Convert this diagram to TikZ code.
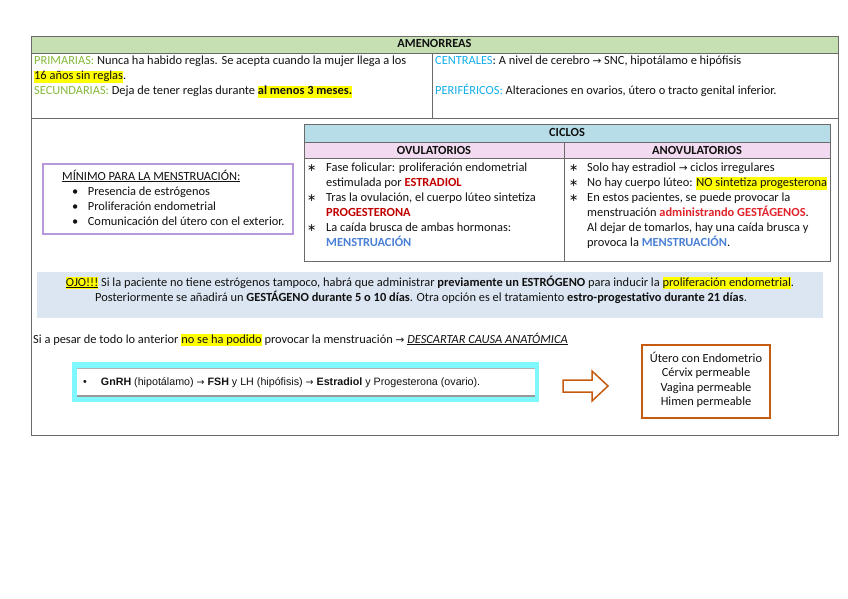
\documentclass[tikz,border=0pt]{standalone}
\usepackage{fontspec}
\setmainfont{Carlito}
\newfontfamily\arialf{Liberation Sans}
\newfontfamily\symf{DejaVu Sans}
\definecolor{ink}{HTML}{111111}
\definecolor{rulec}{HTML}{6A6A6A}
\definecolor{hdrgreen}{HTML}{C6E0B4}
\definecolor{primc}{HTML}{84B93A}
\definecolor{centc}{HTML}{12AEEA}
\definecolor{ciclosblue}{HTML}{B7DEE8}
\definecolor{ovpink}{HTML}{F2DAF0}
\definecolor{purpc}{HTML}{B897DD}
\definecolor{darkred}{HTML}{C00000}
\definecolor{brightred}{HTML}{E0232B}
\definecolor{mensblue}{HTML}{4A7FD6}
\definecolor{hlyellow}{HTML}{FFFF00}
\definecolor{ojofill}{HTML}{DCE6F2}
\definecolor{cyanc}{HTML}{7EF8FC}
\definecolor{orangec}{HTML}{C55A11}
\newcommand\hly[1]{{\setlength{\fboxsep}{0pt}\colorbox{hlyellow}{\rule[-3.2pt]{0pt}{12.6pt}#1}}}
\newcommand\rarr{{\symf\fontsize{10.5}{10}\selectfont →}}
\newcommand\astb{{\symf\fontsize{11}{11}\selectfont ∗}}
\begin{document}
\begin{tikzpicture}[x=1pt,y=-1pt,
  txt/.style={inner sep=0pt, anchor=base west, font=\fontsize{12.4}{15}\selectfont, text=ink},
  ctxt/.style={txt, anchor=base},
  rulel/.style={draw=rulec, line width=0.9pt}]
\useasboundingbox (0,0) rectangle (848,599);
% ---------- outer table ----------
\fill[hdrgreen] (31,36) rectangle (838,53);
\draw[rulel] (31,36) rectangle (838,435);
\draw[rulel] (31,53) -- (838,53);
\draw[rulel] (31,118) -- (838,118);
\draw[rulel] (432,53) -- (432,118);
\node[ctxt] (title) at (434.5,48) {\textbf{AMENORREAS}};
\node[txt] (prim1) at (34,65) {\textcolor{primc}{PRIMARIAS:} Nunca ha habido reglas. Se acepta cuando la mujer llega a los};
\node[txt] (prim2) at (34,80) {\hly{16 años sin reglas}.};
\node[txt] (secu) at (34,95) {\textcolor{primc}{SECUNDARIAS:} Deja de tener reglas durante \hly{\textbf{al menos 3 meses.}}};
\node[txt] (cent) at (435,65) {\textcolor{centc}{CENTRALES}: A nivel de cerebro \rarr{} SNC, hipotálamo e hipófisis};
\node[txt] (peri) at (435,95) {\textcolor{centc}{PERIFÉRICOS:} Alteraciones en ovarios, útero o tracto genital inferior.};
% ---------- minimum box ----------
\draw[draw=purpc, line width=1.1pt] (43,164) rectangle (293,234);
\node[txt] (minh) at (62,180) {\underline{MÍNIMO PARA LA MENSTRUACIÓN:}};
\node[txt] (min1) at (72,195) {•\hspace{9.5pt}Presencia de estrógenos};
\node[txt] (min2) at (72,210) {•\hspace{9.5pt}Proliferación endometrial};
\node[txt] (min3) at (72,225) {•\hspace{9.5pt}Comunicación del útero con el exterior.};
% ---------- ciclos table ----------
\fill[ciclosblue] (304,124) rectangle (830,142);
\fill[ovpink] (304,142) rectangle (830,158);
\draw[rulel] (304,124) rectangle (830,261);
\draw[rulel] (304,142) -- (830,142);
\draw[rulel] (304,158) -- (830,158);
\draw[rulel] (564,142) -- (564,261);
\node[ctxt] (ciclos) at (567,136) {\textbf{CICLOS}};
\node[ctxt] (ovu) at (434,154.5) {\textbf{OVULATORIOS}};
\node[ctxt] (anov) at (697,154.5) {\textbf{ANOVULATORIOS}};
\node[txt] (o1) at (307,171.5) {\astb};
\node[txt] (o1a) at (326,171.5) {Fase folicular: proliferación endometrial};
\node[txt] (o1b) at (326,186.5) {estimulada por \textcolor{darkred}{\textbf{ESTRADIOL}}};
\node[txt] (o2) at (307,201.5) {\astb};
\node[txt] (o2a) at (326,201.5) {Tras la ovulación, el cuerpo lúteo sintetiza};
\node[txt] (o2b) at (326,216.5) {\textcolor{darkred}{\textbf{PROGESTERONA}}};
\node[txt] (o3) at (307,231.5) {\astb};
\node[txt] (o3a) at (326,231.5) {La caída brusca de ambas hormonas:};
\node[txt] (o3b) at (326,246.5) {\textcolor{mensblue}{\textbf{MENSTRUACIÓN}}};
\node[txt] (a1) at (569,171.5) {\astb};
\node[txt] (a1a) at (587,171.5) {Solo hay estradiol \rarr{} ciclos irregulares};
\node[txt] (a2) at (569,186.5) {\astb};
\node[txt] (a2a) at (587,186.5) {No hay cuerpo lúteo: \hly{NO sintetiza progesterona}};
\node[txt] (a3) at (569,201.5) {\astb};
\node[txt] (a3a) at (587,201.5) {En estos pacientes, se puede provocar la};
\node[txt] (a3b) at (587,216.5) {menstruación \textcolor{brightred}{\textbf{administrando GESTÁGENOS}}.};
\node[txt] (a3c) at (587,231.5) {Al dejar de tomarlos, hay una caída brusca y};
\node[txt] (a3d) at (587,246.5) {provoca la \textcolor{mensblue}{\textbf{MENSTRUACIÓN}}.};
% ---------- OJO box ----------
\fill[ojofill] (37,272) rectangle (823,318);
\node[ctxt] (ojo1) at (430,286) {\hly{\underline{OJO!!!}} Si la paciente no tiene estrógenos tampoco, habrá que administrar \textbf{previamente un ESTRÓGENO} para inducir la \hly{proliferación endometrial}.};
\node[ctxt] (ojo2) at (421,301) {Posteriormente se añadirá un \textbf{GESTÁGENO durante 5 o 10 días}. Otra opción es el tratamiento \textbf{estro-progestativo durante 21 días}.};
% ---------- bottom ----------
\node[txt] (pesar) at (33,343) {Si a pesar de todo lo anterior \hly{no se ha podido} provocar la menstruación \rarr{} \underline{\textit{DESCARTAR CAUSA ANATÓMICA}}};
\fill[cyanc] (72,362) rectangle (539,402);
\fill[white] (77,368) rectangle (535,396);
\draw[draw=gray!60, line width=0.8pt] (77,368) -- (535,368);
\draw[draw=gray!80, line width=1.3pt] (77,396) -- (535,396);
\node[txt, font=\arialf\fontsize{10.7}{12}\selectfont] (gnrh) at (83,385) {•\hspace{14pt}\textbf{GnRH} (hipotálamo) {\symf\fontsize{9.5}{9}\selectfont →} \textbf{FSH} y LH (hipófisis) {\symf\fontsize{9.5}{9}\selectfont →} \textbf{Estradiol} y Progesterona (ovario).};
\draw[draw=orangec, line width=1.5pt, line join=miter] (563,380) -- (592,380) -- (592,371) -- (608,386) -- (592,401) -- (592,392) -- (563,392) -- cycle;
\draw[draw=orangec, line width=1.4pt] (642,345) rectangle (770,418);
\node[ctxt] (an1) at (706,362) {Útero con Endometrio};
\node[ctxt] (an2) at (706,376.5) {Cérvix permeable};
\node[ctxt] (an3) at (706,391) {Vagina permeable};
\node[ctxt] (an4) at (706,405.5) {Himen permeable};
\end{tikzpicture}
\end{document}
